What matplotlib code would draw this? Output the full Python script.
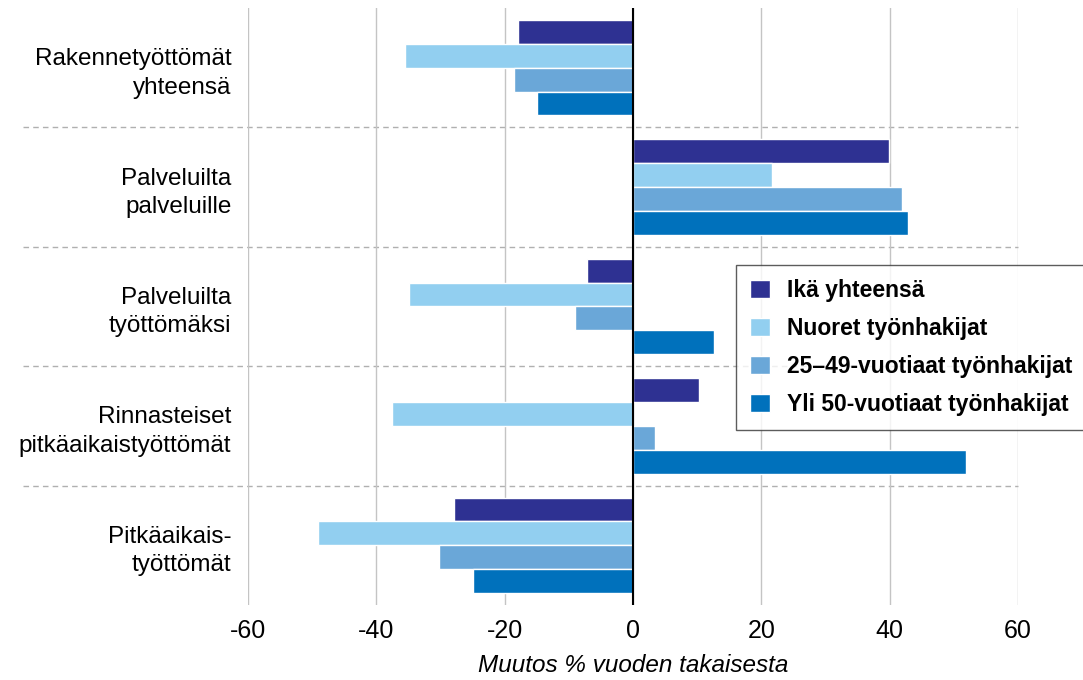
import numpy as np
import matplotlib
matplotlib.use('Agg')
import matplotlib.pyplot as plt
import matplotlib.transforms as mtransforms

plt.rcParams['font.family'] = ['Liberation Sans Narrow', 'Liberation Sans', 'DejaVu Sans']

categories = ['Rakennetyöttömät\nyhteensä', 'Palveluilta\npalveluille', 'Palveluilta\ntyöttömäksi',
              'Rinnasteiset\npitkäaikaistyöttömät', 'Pitkäaikais-\ntyöttömät']
series = ['Ikä yhteensä', 'Nuoret työnhakijat', '25–49-vuotiaat työnhakijat', 'Yli 50-vuotiaat työnhakijat']
ika = [-17.9, 39.9, -7.2, 10.3, -27.9]
nuoret = [-35.5, 21.7, -34.9, -37.6, -49.1]
keski = [-18.5, 41.9, -9.0, 3.4, -30.2]
yli50 = [-15.0, 42.9, 12.6, 51.9, -24.9]
values = [ika, nuoret, keski, yli50]
colors = ['#2e3192', '#92cff0', '#6aa7d8', '#0071bc']
xticks = [-60, -40, -20, 0, 20, 40, 60]

fig = plt.figure(figsize=(10.83, 6.8), dpi=100)
ax = fig.add_axes([248/1083, 1-605/680, 770/1083, 597/680])

y = np.arange(len(categories))
h = 0.2
for i, vals in enumerate(values):
    ax.barh(y - 0.3 + i*h, vals, height=h, color=colors[i], edgecolor='white',
            linewidth=1, label=series[i], zorder=3)

ax.set_xlim(-60, 60)
ax.set_ylim(4.5, -0.5)
ax.set_xticks(xticks)
ax.set_xticklabels([str(t) for t in xticks], fontsize=18)
ax.set_yticks(y)
ax.set_yticklabels(categories, fontsize=17.5, linespacing=1.38)
ax.tick_params(axis='both', length=0)
ax.tick_params(axis='y', pad=12)
ax.tick_params(axis='x', pad=10)
for s in ax.spines.values():
    s.set_visible(False)
ax.grid(axis='x', color='#c4c4c4', linewidth=1, zorder=0)
ax.axvline(0, color='black', linewidth=1.5, zorder=4)

# dashed group separators reaching into the label area
trans = mtransforms.blended_transform_factory(ax.transAxes, ax.transData)
for yy in [0.5, 1.5, 2.5, 3.5]:
    ax.plot([-0.292, 1.0], [yy, yy], transform=trans, color='#b0b0b0', linewidth=1,
            linestyle=(0, (4, 3)), clip_on=False, zorder=1)

ax.set_xlabel('Muutos % vuoden takaisesta', fontsize=17.5, style='italic', labelpad=8)

leg = ax.legend(loc='upper left', bbox_to_anchor=(0.634, 0.5695), borderaxespad=0,
                prop={'weight': 'bold', 'size': 16.5}, frameon=True, fancybox=False,
                edgecolor='#333333', handlelength=0.87, handleheight=0.87, labelspacing=0.66,
                borderpad=0.6, handletextpad=0.75)
leg.get_frame().set_linewidth(1)
leg.set_zorder(5)

fig.savefig('out.png', dpi=100)
